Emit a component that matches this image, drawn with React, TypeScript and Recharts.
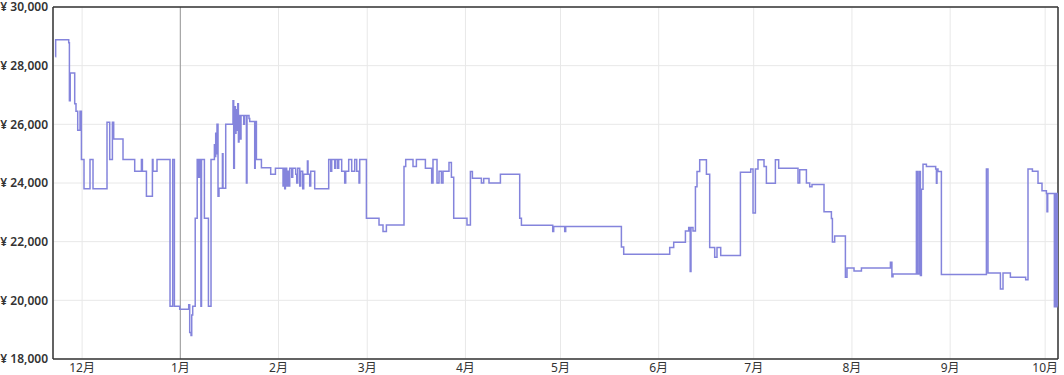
import React from 'react';
import { LineChart, Line, XAxis, YAxis, CartesianGrid, ReferenceLine } from 'recharts';

// x = days since 1 Dec (12月1日 = 0)
const monthTickDays = [0, 31, 62, 90, 121, 151, 182, 212, 243, 274, 304];
const monthLabels = ['12月', '1月', '2月', '3月', '4月', '5月', '6月', '7月', '8月', '9月', '10月'];
const priceTicks = [18000, 20000, 22000, 24000, 26000, 28000, 30000];
const yearStartDay = 31;

const priceDays = [
  -8.43, -8.35, -4.23, -4.01, -3.75, -2.34, -1.93, -1.39, -0.66, -0.22,
  0.6, 2.49, 3.44, 7.86, 8.71, 9.56, 9.97, 12.91, 16.6, 18.72,
  19.03, 20.3, 22.19, 22.38, 23.64, 27.75, 28.6, 29.13, 30.81, 33.65,
  33.96, 34.38, 34.6, 34.91, 35.7, 36.33, 36.58, 36.81, 37.03, 37.22,
  37.5, 37.69, 38.6, 39.87, 40.69, 41.76, 41.95, 42.17, 42.39, 42.58,
  42.9, 43.21, 44.29, 44.48, 45.33, 47.63, 47.85, 48.07, 48.39, 48.58,
  48.8, 49.12, 49.34, 49.53, 49.97, 50.16, 51.01, 51.23, 51.86, 52.05,
  52.68, 52.9, 54.48, 54.64, 55.02, 56.6, 59.53, 61.02, 63.42, 63.64,
  63.95, 64.17, 64.58, 64.8, 65.21, 65.53, 66.16, 66.48, 67.42, 67.74,
  68.06, 68.69, 69.0, 69.63, 69.95, 71.12, 71.31, 71.84, 72.16, 73.42,
  77.84, 78.47, 78.79, 79.73, 80.05, 80.68, 81.0, 81.94, 82.89, 83.21,
  84.15, 85.1, 86.05, 86.68, 87.41, 87.63, 89.74, 93.72, 94.98, 96.05,
  101.61, 102.15, 104.45, 105.52, 108.36, 110.35, 110.76, 112.03, 112.66, 113.42,
  113.92, 115.81, 116.57, 117.3, 121.49, 122.57, 123.2, 126.04, 126.77, 128.44,
  132.04, 138.13, 138.67, 148.55, 148.86, 152.34, 152.65, 170.23, 170.96, 185.48,
  186.74, 190.44, 191.48, 191.95, 192.2, 192.83, 193.6, 194.1, 194.95, 197.07,
  198.1, 199.68, 200.41, 201.58, 207.8, 211.05, 211.78, 212.53, 213.35, 215.25,
  216.0, 218.84, 219.88, 225.98, 226.52, 228.63, 229.67, 230.4, 234.19, 236.52,
  236.84, 237.56, 240.94, 241.45, 243.66, 246.0, 255.15, 255.62, 255.97, 263.35,
  263.67, 264.17, 264.61, 264.93, 265.44, 266.51, 269.44, 269.67, 269.85, 270.17,
  271.24, 285.45, 285.95, 289.87, 290.69, 293.02, 297.85, 298.58, 299.97, 301.74,
  303.0, 304.39, 304.58, 304.8, 306.9, 307.07, 307.2, 307.4, 307.5, 307.7,
  307.9,
];

const prices = [
  28300, 28880, 28780, 26800, 27750, 26700, 26450, 25800, 26450, 24800,
  23800, 24800, 23800, 26070, 24800, 26070, 25500, 24800, 24400, 24800,
  24400, 23550, 24800, 24400, 24800, 19800, 24800, 19800, 19700, 19850,
  18900, 18800, 19500, 19800, 22800, 24800, 24200, 24800, 24200, 24800,
  19800, 24800, 22800, 19800, 24800, 25300, 24900, 25700, 25000, 26000,
  23550, 23820, 25000, 23820, 26000, 26800, 24500, 26600, 25700, 26500,
  25800, 26700, 25400, 26300, 25500, 26300, 26000, 26300, 24000, 26300,
  26200, 26100, 24500, 26100, 24800, 24520, 24300, 24500, 23900, 24500,
  23800, 24500, 23900, 24400, 23900, 24500, 24200, 24500, 24300, 24000,
  24500, 23900, 24400, 23800, 24300, 24750, 24300, 23900, 24400, 23800,
  24800, 24400, 24800, 24500, 24800, 24500, 24800, 24400, 24000, 24400,
  24800, 24400, 24800, 24400, 24000, 24800, 22800, 22570, 22350, 22570,
  24560, 24800, 24560, 24800, 24500, 24000, 24800, 24000, 24400, 24000,
  24400, 24700, 24200, 22800, 22570, 24390, 24160, 24000, 24150, 24000,
  24300, 22800, 22560, 22350, 22520, 22350, 22520, 21820, 21570, 21800,
  21980, 22360, 22480, 20980, 22480, 22360, 23870, 24390, 24790, 24300,
  21800, 21470, 21800, 21530, 24370, 24480, 22980, 24480, 24790, 24560,
  23990, 24790, 24500, 24000, 24450, 24000, 23870, 23950, 23020, 22790,
  21990, 22190, 20790, 21100, 21000, 21100, 21300, 20800, 20900, 24390,
  20900, 24390, 20850, 23790, 24640, 24560, 24480, 23990, 24480, 24390,
  20880, 24480, 20930, 20390, 20930, 20790, 20700, 24480, 24400, 23990,
  23740, 23640, 23020, 23640, 19780, 23640, 19780, 23640, 19780, 23640,
  19800,
];

const data = priceDays.map((d, i) => ({ day: d, price: prices[i] }));

const X_MIN = -9.19;
const X_MAX = 308.05;

const fmtPrice = (v: number) => '¥ ' + v.toLocaleString('en-US');
const fmtMonth = (v: number) => {
  const i = monthTickDays.indexOf(v);
  return i >= 0 ? monthLabels[i] : '';
};

const font = "'Noto Sans', 'Noto Sans CJK JP', sans-serif";

const YTick = (props: any) => {
  const { x, y, payload } = props;
  return (
    <text
      x={x}
      y={y}
      dy="0.36em"
      textAnchor="end"
      fill="#333"
      fontSize={12}
      fontWeight={600}
      fontFamily={font}
    >
      {fmtPrice(payload.value)}
    </text>
  );
};

const XTick = (props: any) => {
  const { x, y, payload } = props;
  return (
    <text
      x={x}
      y={y}
      dy="0.85em"
      textAnchor="middle"
      fill="#333"
      fontSize={12}
      fontFamily={font}
    >
      {fmtMonth(payload.value)}
    </text>
  );
};

export default function App() {
  return (
    <div style={{ position: 'absolute', left: 0, top: 0, width: 1064, height: 375, background: '#fff' }}>
      <LineChart
        width={1064}
        height={375}
        data={data}
        margin={{ top: 7, right: 6, bottom: 0, left: 0 }}
      >
        <CartesianGrid stroke="#e8e8e8" strokeWidth={1} />
        <XAxis
          dataKey="day"
          type="number"
          domain={[X_MIN, X_MAX]}
          allowDataOverflow
          ticks={monthTickDays}
          height={16}
          tickSize={0}
          tickMargin={3}
          axisLine={{ stroke: '#333', strokeWidth: 1.5 }}
          tickLine={false}
          interval={0}
          tick={<XTick />}
        />
        <YAxis
          type="number"
          domain={[18000, 30000]}
          ticks={priceTicks}
          width={53}
          tickSize={0}
          tickMargin={5}
          axisLine={{ stroke: '#333', strokeWidth: 1.5 }}
          tickLine={false}
          interval={0}
          tick={<YTick />}
        />
        <ReferenceLine x={yearStartDay} stroke="#999" strokeWidth={1} />
        <ReferenceLine y={30000} stroke="#333" strokeWidth={1.5} />
        <ReferenceLine x={X_MAX} stroke="#333" strokeWidth={1.5} />
        <Line
          type="stepAfter"
          dataKey="price"
          stroke="#8484dc"
          strokeWidth={1.5}
          dot={false}
          activeDot={false}
          isAnimationActive={false}
        />
      </LineChart>
    </div>
  );
}
